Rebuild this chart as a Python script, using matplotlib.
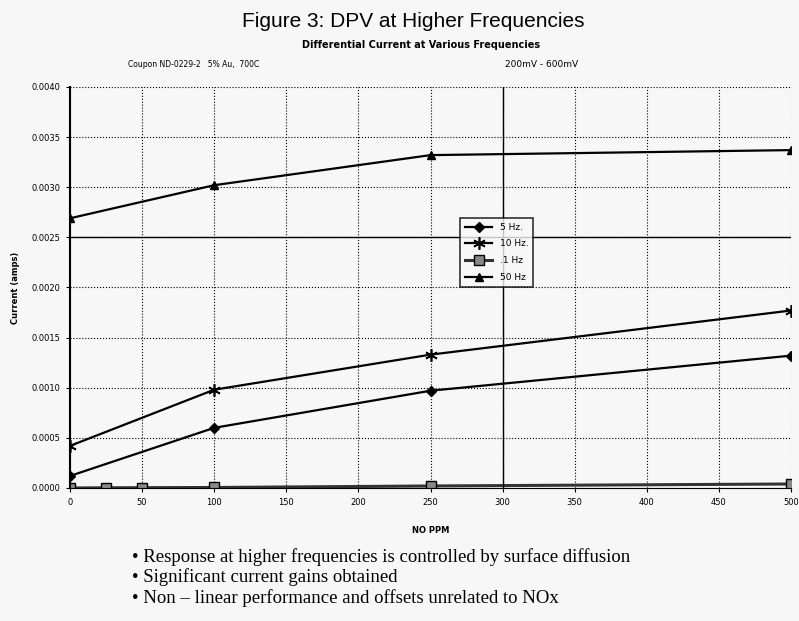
import numpy as np
import matplotlib.pyplot as plt

# data
ppm = [0, 100, 250, 500]
hz5 = [0.00012, 0.00060, 0.00097, 0.00132]
hz10 = [0.00042, 0.00098, 0.00133, 0.00177]
hz50 = [0.00269, 0.00302, 0.00332, 0.00337]
ppm_01 = [0, 25, 50, 100, 250, 500]
hz01 = [0.0, 0.000002, 0.000003, 0.000005, 0.00002, 0.00004]

xticks = np.arange(0, 501, 50)
yticks = np.arange(0, 0.00401, 0.0005)

bg = '#f7f7f7'
fig = plt.figure(figsize=(7.99, 6.21), dpi=100, facecolor=bg)
ax = fig.add_axes([0.0876, 0.2142, 0.9024, 0.6458], facecolor=bg)

ax.plot(ppm, hz5, color='black', lw=1.6, marker='D', ms=5, label='5 Hz.')
ax.plot(ppm, hz10, color='black', lw=1.6, marker=(6, 2, 0), ms=9, mew=1.2, label='10 Hz.')
ax.plot(ppm_01, hz01, color='#333333', lw=2.2, marker='s', ms=7, mfc='#888888',
        mec='black', label='.1 Hz')
ax.plot(ppm, hz50, color='black', lw=1.6, marker='^', ms=6, label='50 Hz')

ax.set_xlim(0, 500)
ax.set_ylim(0, 0.0040)
ax.set_xticks(xticks)
ax.set_yticks(yticks)
ax.set_xticklabels([str(v) for v in xticks], fontsize=6)
ax.set_yticklabels(['%.4f' % v for v in yticks], fontsize=6)
ax.grid(True, linestyle=':', color='black', lw=0.8)
ax.axvline(300, color='black', lw=1.0)
ax.axhline(0.0025, color='black', lw=1.0)
for s in ['top', 'right']:
    ax.spines[s].set_visible(False)
ax.spines['left'].set_linewidth(1.5)
ax.tick_params(length=3, pad=4)

ax.set_xlabel('NO PPM', fontsize=6, fontweight='bold', labelpad=14)
ax.set_ylabel('Current (amps)', fontsize=6, fontweight='bold', labelpad=8)

leg = ax.legend(loc='upper left', bbox_to_anchor=(0.535, 0.685), fontsize=6.5,
                frameon=True, fancybox=False, edgecolor='black', facecolor=bg,
                handlelength=3, labelspacing=0.85, borderpad=0.55)
leg.get_frame().set_linewidth(1.2)

fig.text(0.517, 0.965, 'Figure 3: DPV at Higher Frequencies', ha='center', va='center',
         fontsize=15, family='Liberation Sans')
fig.text(0.527, 0.928, 'Differential Current at Various Frequencies', ha='center',
         va='center', fontsize=7, fontweight='bold')
fig.text(0.160, 0.896, 'Coupon ND-0229-2   5% Au,  700C', ha='left', va='center', fontsize=5.5)
fig.text(0.632, 0.896, '200mV - 600mV', ha='left', va='center', fontsize=6.5)

bullets = ['• Response at higher frequencies is controlled by surface diffusion',
           '• Significant current gains obtained',
           '• Non – linear performance and offsets unrelated to NOx']
for i, b in enumerate(bullets):
    fig.text(0.165, 0.103 - i * 0.033, b, ha='left', va='center', fontsize=13.5,
             family='Liberation Serif')

fig.savefig('out.png', dpi=100, facecolor=bg)
